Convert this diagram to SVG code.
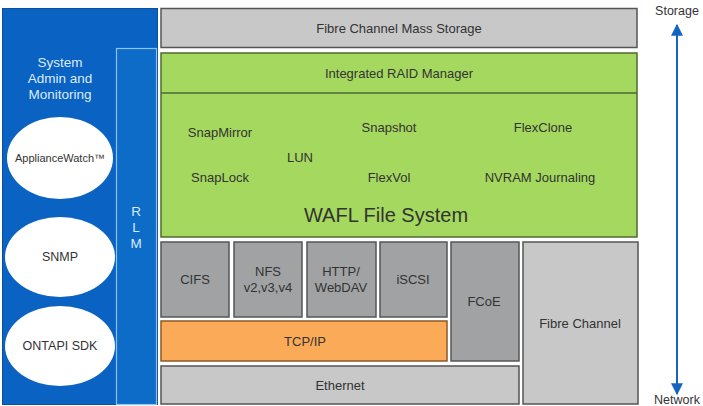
<svg xmlns="http://www.w3.org/2000/svg" width="703" height="406" viewBox="0 0 703 406">
<defs>
<style>
text{font-family:"Liberation Sans",Arial,sans-serif;text-anchor:middle;dominant-baseline:central;fill:#333}
.g{fill:#c8c8c8;stroke:#555;stroke-width:1.5}
.dg{fill:#a0a2a3;stroke:#555;stroke-width:1.5}
.gr{fill:#a5d85e;stroke:#4d6b35;stroke-width:1.5}
.t13{font-size:13px}
.t12{font-size:12.5px}
.ell{fill:#fff}
.w{fill:#dcebfa;font-size:13.5px}
</style>
<marker id="ah" viewBox="0 0 10 10" refX="9" refY="5" markerWidth="6" markerHeight="6" orient="auto-start-reverse">
<path d="M0,0 L10,5 L0,10 z" fill="#1565c0"/>
</marker>
</defs>
<g id="admin">
<rect x="2.5" y="8.5" width="155" height="396" fill="#0a62c2" stroke="#0a4f9c" stroke-width="1"/>
<text class="w" x="60" y="62">System</text>
<text class="w" x="60" y="78">Admin and</text>
<text class="w" x="60" y="94">Monitoring</text>
</g>
<g id="appliancewatch">
<ellipse class="ell" cx="60" cy="158" rx="53" ry="41"/>
<text x="60" y="158" style="font-size:11px">ApplianceWatch™</text>
</g>
<g id="snmp">
<ellipse class="ell" cx="60" cy="257" rx="55" ry="40"/>
<text x="60" y="257" class="t12">SNMP</text>
</g>
<g id="ontapi">
<ellipse class="ell" cx="60" cy="346" rx="55" ry="40"/>
<text x="60" y="346" class="t12">ONTAPI SDK</text>
</g>
<g id="rlm">
<rect x="116.5" y="48.5" width="40" height="356" fill="#0c6cc8" stroke="#8cc2f0" stroke-width="1.2"/>
<text class="w" x="136" y="211">R</text>
<text class="w" x="136" y="227">L</text>
<text class="w" x="136" y="243">M</text>
</g>
<g id="fcms">
<rect class="g" x="161" y="8.5" width="476" height="39"/>
<text class="t13" x="399" y="28">Fibre Channel Mass Storage</text>
</g>
<g id="wafl">
<rect class="gr" x="161" y="53" width="476" height="184"/>
<line x1="161" y1="93" x2="637" y2="93" stroke="#4d6b35" stroke-width="1.5"/>
<text class="t13" x="399" y="73">Integrated RAID Manager</text>
<text class="t13" x="220" y="132">SnapMirror</text>
<text class="t13" x="389" y="127">Snapshot</text>
<text class="t13" x="543" y="127">FlexClone</text>
<text class="t13" x="300" y="157">LUN</text>
<text class="t13" x="220" y="177">SnapLock</text>
<text class="t13" x="389" y="177">FlexVol</text>
<text class="t13" x="540" y="177">NVRAM Journaling</text>
<text x="386" y="215" style="font-size:20px">WAFL File System</text>
</g>
<g id="cifs">
<rect class="dg" x="161" y="242" width="68" height="75"/>
<text class="t13" x="195" y="279">CIFS</text>
</g>
<g id="nfs">
<rect class="dg" x="234" y="242" width="68" height="75"/>
<text class="t13" x="268" y="271">NFS</text>
<text class="t13" x="268" y="287">v2,v3,v4</text>
</g>
<g id="http">
<rect class="dg" x="307" y="242" width="69" height="75"/>
<text class="t13" x="341" y="271">HTTP/</text>
<text class="t13" x="341" y="287">WebDAV</text>
</g>
<g id="iscsi">
<rect class="dg" x="380" y="242" width="67" height="75"/>
<text class="t13" x="413" y="279">iSCSI</text>
</g>
<g id="fcoe">
<rect class="dg" x="451" y="242" width="68" height="119"/>
<text class="t13" x="484" y="301">FCoE</text>
</g>
<g id="tcpip">
<rect x="161" y="321" width="286" height="40" fill="#fbab58" stroke="#8a5a2a" stroke-width="1.5"/>
<text class="t13" x="305" y="341">TCP/IP</text>
</g>
<g id="ethernet">
<rect class="g" x="161" y="366" width="358" height="38"/>
<text class="t13" x="340" y="385">Ethernet</text>
</g>
<g id="fibrechannel">
<rect class="g" x="523" y="242" width="115" height="162"/>
<text class="t13" x="580" y="323">Fibre Channel</text>
</g>
<g id="connectors">
<line x1="677" y1="25" x2="677" y2="394" stroke="#1565c0" stroke-width="2" marker-start="url(#ah)" marker-end="url(#ah)"/>
</g>
<g id="labels">
<text class="t12" x="677" y="11">Storage</text>
<text class="t12" x="677" y="400">Network</text>
</g>
</svg>
